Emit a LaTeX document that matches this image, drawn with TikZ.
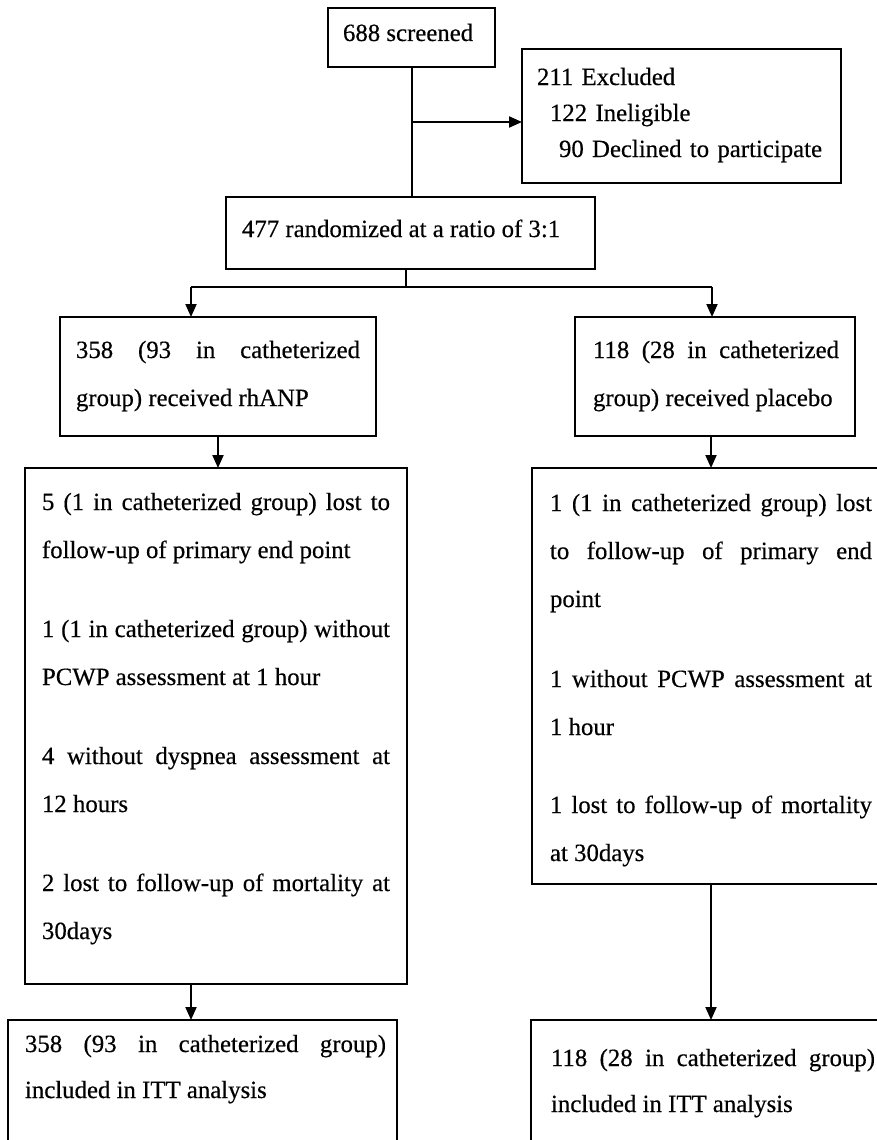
\documentclass[tikz,border=0pt]{standalone}
\usepackage{fontspec}
\setmainfont{Liberation Serif}[FakeBold=0.4]
\usetikzlibrary{arrows.meta}
\begin{document}
\begin{tikzpicture}[x=1pt,y=-1pt,
  box/.style={draw=black, line width=2pt, inner sep=0pt, outer sep=0pt, anchor=north west},
  txt/.style={inner sep=0pt, outer sep=0pt, anchor=base west, font=\fontsize{24.8pt}{48pt}\selectfont},
  para/.style={txt, align=justify},
  conn/.style={line width=2pt, draw=black},
  arr/.style={conn, -{Triangle[length=13pt,width=11pt]}}]
\useasboundingbox (0,0) rectangle (877,1140);
\clip (0,0) rectangle (877,1140);
\fill[white] (0,0) rectangle (877,1140);

% boxes
\node[box, minimum width=167pt, minimum height=59pt]  (scr)   at (328,8)    {};
\node[box, minimum width=319pt, minimum height=134pt] (excl)  at (522,49)   {};
\node[box, minimum width=369pt, minimum height=72pt]  (rand)  at (226,197)  {};
\node[box, minimum width=316pt, minimum height=119pt] (rh)    at (60,317)   {};
\node[box, minimum width=280pt, minimum height=119pt] (pl)    at (575,317)  {};
\node[box, minimum width=382pt, minimum height=516pt] (lossL) at (25,468)   {};
\node[box, minimum width=358pt, minimum height=416pt] (lossR) at (532,468)  {};
\node[box, minimum width=389pt, minimum height=170pt] (ittL)  at (8,1020)   {};
\node[box, minimum width=359pt, minimum height=170pt] (ittR)  at (531,1020) {};

% texts
\node[txt] (scrT) at (343,41) {688 screened};
\node[txt, text width=300pt, align=left, font=\fontsize{24.8pt}{36pt}\selectfont] (exclT) at (537,85)
  {211 Excluded\\\hspace*{13pt}122 Ineligible\\\hspace*{22pt}90 Declined to participate};
\node[txt] (randT) at (242,237) {477 randomized at a ratio of 3:1};
\node[para, text width=284pt] (rhT) at (76,358)
  {\tolerance=10000\hbadness=10000 358 (93 in catheterized\linebreak group) received rhANP};
\node[para, text width=246pt] (plT) at (593,358)
  {\tolerance=10000\hbadness=10000 118 (28 in catheterized\linebreak group) received placebo};
\node[para, text width=348pt] (lossLT) at (42,510)
  {\tolerance=10000\hbadness=10000 5 (1 in catheterized group) lost to\linebreak follow-up of primary end point\par\vspace{31pt}%
   1 (1 in catheterized group) without\linebreak PCWP assessment at 1 hour\par\vspace{31pt}%
   4 without dyspnea assessment at\linebreak 12 hours\par\vspace{31pt}%
   2 lost to follow-up of mortality at\linebreak 30days};
\node[para, text width=322pt] (lossRT) at (550,511)
  {\tolerance=10000\hbadness=10000 1 (1 in catheterized group) lost\linebreak to follow-up of primary end\linebreak point\par\vspace{32pt}%
   1 without PCWP assessment at\linebreak 1 hour\par\vspace{30pt}%
   1 lost to follow-up of mortality\linebreak at 30days};
\node[para, text width=361pt, font=\fontsize{24.8pt}{46pt}\selectfont] (ittLT) at (25,1052)
  {\tolerance=10000\hbadness=10000 358 (93 in catheterized group)\linebreak included in ITT analysis};
\node[para, text width=324pt, font=\fontsize{24.8pt}{46pt}\selectfont] (ittRT) at (551,1066)
  {\tolerance=10000\hbadness=10000 118 (28 in catheterized group)\linebreak included in ITT analysis};

% connectors
\draw[conn] (scr.south) -- (scr.south |- rand.north);
\path (scr.south) ++(0,55) coordinate (j1);
\draw[arr] (j1) -- (j1 -| excl.west);
\draw[conn] ([xshift=-4.5pt]rand.south) -- ++(0,18) coordinate (sp);
\coordinate (aL) at (191,287);
\coordinate (aR) at (712,287);
\draw[conn] (aL) -- (aR);
\draw[arr] (aL) -- (aL |- rh.north);
\draw[arr] (aR) -- (aR |- pl.north);
\draw[arr] (rh.south) -- (rh.south |- lossL.north);
\draw[arr] (pl.south -| lossR.north) -- (lossR.north);
\draw[arr] (lossL.south -| aL) -- (ittL.north -| aL);
\draw[arr] (lossR.south) -- (lossR.south |- ittR.north);
\end{tikzpicture}
\end{document}
